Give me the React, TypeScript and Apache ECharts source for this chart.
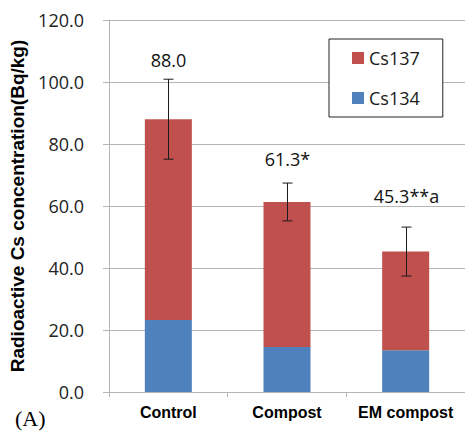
import React, { useEffect, useRef } from "react";
import * as echarts from "echarts";

// Treatments along the x axis
const categories = ["Control", "Compost", "EM compost"];
// Total radioactive Cs (Bq/kg) per treatment
const totals = [88.0, 61.3, 45.3];
// Cs134 share of each total (Bq/kg)
const cs134 = [23.2, 14.5, 13.5];
// Standard deviation of the totals
const errors = [12.9, 6.1, 7.9];
// Significance marks appended to the total labels
const marks = ["", "*", "**a"];
// Y axis ticks
const yMin = 0;
const yMax = 120;
const yStep = 20;

// Cs137 stacks on top of Cs134 up to the total
const cs137 = totals.map((t, i) => +(t - cs134[i]).toFixed(1));

// Vertical distance (px) of each total label above its error bar
const labelOffsets = [19, 24, 31];

const RED = "#C0504D";
const BLUE = "#4F81BD";
const GRID = "#b5b5b5";

export default function App() {
  const ref = useRef<HTMLDivElement>(null);

  useEffect(() => {
    if (!ref.current) return;
    const chart = echarts.init(ref.current, null, { renderer: "svg" });

    const errorData = totals.map((t, i) => [i, t - errors[i], t + errors[i]]);

    chart.setOption({
      animation: false,
      backgroundColor: "#ffffff",
      grid: { left: 109, right: 0, top: 20, bottom: 40 },
      legend: {
        data: ["Cs137", "Cs134"],
        orient: "vertical",
        left: 329,
        top: 39,
        padding: [10, 23, 10, 23],
        itemGap: 22,
        itemWidth: 12,
        itemHeight: 12,
        icon: "rect",
        borderColor: "#222",
        borderWidth: 1,
        backgroundColor: "#fff",
        textStyle: { fontFamily: "Open Sans", fontSize: 18, color: "#1a1a1a" },
      },
      xAxis: {
        type: "category",
        data: categories,
        axisLine: { show: true, lineStyle: { color: GRID, width: 1 } },
        axisTick: { show: true, alignWithLabel: false, length: 5, lineStyle: { color: GRID } },
        axisLabel: {
          interval: 0,
          margin: 12,
          fontFamily: "Liberation Sans",
          fontWeight: "bold",
          fontSize: 16,
          color: "#000",
        },
      },
      yAxis: {
        type: "value",
        min: yMin,
        max: yMax,
        interval: yStep,
        name: "Radioactive Cs concentration(Bq/kg)",
        nameLocation: "middle",
        nameGap: 79,
        nameTextStyle: {
          fontFamily: "Liberation Sans",
          fontWeight: "bold",
          fontSize: 19,
          color: "#000",
        },
        axisLine: { show: true, lineStyle: { color: GRID, width: 1 } },
        axisTick: { show: true, length: 6, lineStyle: { color: GRID } },
        splitLine: { show: true, lineStyle: { color: GRID, width: 1 } },
        axisLabel: {
          margin: 25,
          fontFamily: "Open Sans",
          fontSize: 18,
          color: "#222",
          formatter: (v: number) => v.toFixed(1),
        },
      },
      series: [
        {
          name: "Cs134",
          type: "bar",
          stack: "cs",
          barWidth: 47,
          data: cs134,
          itemStyle: { color: BLUE },
        },
        {
          name: "Cs137",
          type: "bar",
          stack: "cs",
          barWidth: 47,
          data: cs137,
          itemStyle: { color: RED },
        },
        {
          name: "error",
          type: "custom",
          z: 5,
          data: errorData,
          encode: { x: 0, y: [1, 2] },
          renderItem: (params: any, api: any) => {
            const i = api.value(0);
            const lo = api.coord([i, api.value(1)]);
            const hi = api.coord([i, api.value(2)]);
            const x = Math.round(hi[0]) + 0.5;
            const cap = 5;
            const stroke = { stroke: "#1a1a1a", lineWidth: 1 };
            return {
              type: "group",
              children: [
                { type: "line", shape: { x1: x, y1: hi[1], x2: x, y2: lo[1] }, style: stroke },
                { type: "line", shape: { x1: x - cap, y1: hi[1], x2: x + cap, y2: hi[1] }, style: stroke },
                { type: "line", shape: { x1: x - cap, y1: lo[1], x2: x + cap, y2: lo[1] }, style: stroke },
                {
                  type: "text",
                  x: x,
                  y: hi[1] - labelOffsets[i],
                  style: {
                    text: totals[i].toFixed(1) + marks[i],
                    align: "center",
                    verticalAlign: "middle",
                    fontFamily: "Open Sans",
                    fontSize: 18,
                    fill: "#111",
                  },
                },
              ],
            };
          },
        },
      ],
      graphic: [
        {
          type: "text",
          left: 15,
          top: 407,
          style: {
            text: "(A)",
            fontFamily: "Liberation Serif",
            fontSize: 22,
            fill: "#000",
          },
        },
      ],
    });

    return () => chart.dispose();
  }, []);

  return (
    <div
      ref={ref}
      style={{ position: "fixed", left: 0, top: 0, width: 465, height: 432 }}
    />
  );
}
